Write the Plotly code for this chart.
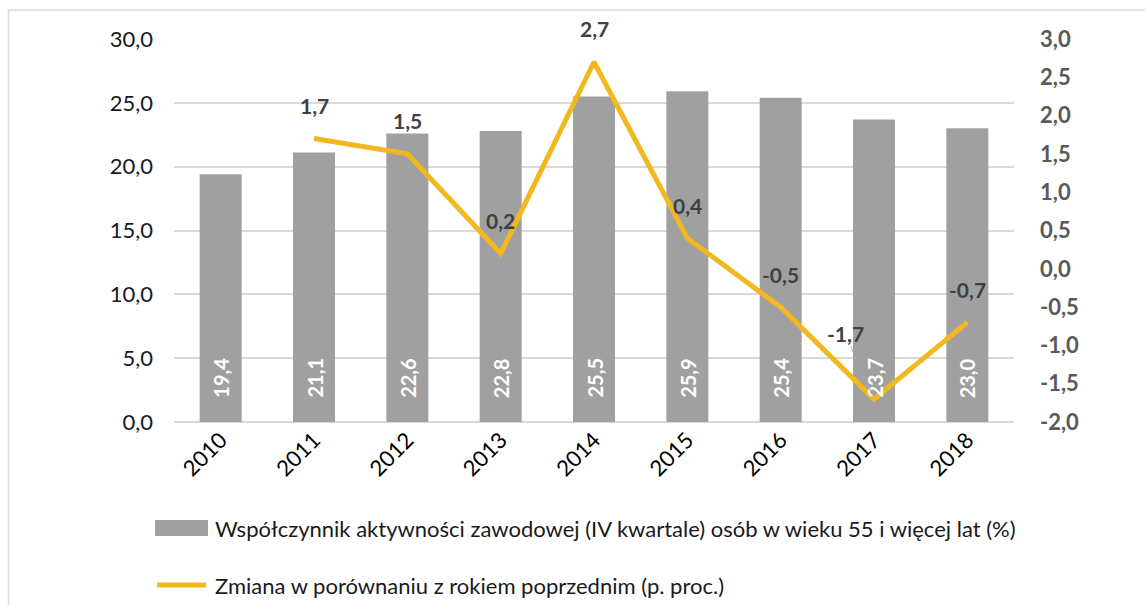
import plotly.graph_objects as go

# Chart data
years = ["2010", "2011", "2012", "2013", "2014", "2015", "2016", "2017", "2018"]
activity_rate = [19.4, 21.1, 22.6, 22.8, 25.5, 25.9, 25.4, 23.7, 23.0]
yoy_change = [None, 1.7, 1.5, 0.2, 2.7, 0.4, -0.5, -1.7, -0.7]
right_ticks = [-2.0, -1.5, -1.0, -0.5, 0.0, 0.5, 1.0, 1.5, 2.0, 2.5, 3.0]

bar_name = "Współczynnik aktywności zawodowej (IV kwartale) osób w wieku 55 i więcej lat (%)"
line_name = "Zmiana w porównaniu z rokiem poprzednim (p. proc.)"

BAR_COLOR = "#A0A0A0"
LINE_COLOR = "#F2B81E"
GRID_COLOR = "#D9D9D9"
FONT = "Lato"

W, H = 1145, 605
L, R, T, B = 174, 131, 39, 183
PW, PH = W - L - R, H - T - B


def px_x(px):
    return (px - L) / PW


def px_y(py):
    return (H - B - py) / PH


def pl(v):
    return f"{v:.1f}".replace(".", ",")


fig = go.Figure()

fig.add_trace(go.Bar(
    x=years, y=activity_rate, name=bar_name,
    marker=dict(color=BAR_COLOR, line=dict(width=0)),
    showlegend=False, hoverinfo="x+y",
))

fig.add_trace(go.Scatter(
    x=years, y=yoy_change, name=line_name, yaxis="y2",
    mode="lines", line=dict(color=LINE_COLOR, width=5),
    connectgaps=False, showlegend=False,
))

annotations = []

# values written vertically inside the bars (category index as x position)
for i, v in enumerate(activity_rate):
    annotations.append(dict(
        x=i, y=0, xref="x", yref="y", text=pl(v), showarrow=False,
        textangle=-90, yanchor="bottom", xanchor="center", yshift=22,
        font=dict(family=FONT, size=20, color="white", weight="bold"),
    ))

# change labels above the line points
for i, v in enumerate(yoy_change):
    if v is None:
        continue
    lab_font = dict(family=FONT, size=21, color="#404040", weight="bold")
    if years[i] == "2017":
        annotations.append(dict(
            x=i, y=v, xref="x", yref="y2", text=pl(v), showarrow=True,
            arrowhead=0, arrowwidth=1, arrowcolor="#A6A6A6",
            ax=-29, ay=-66, standoff=4, font=lab_font,
        ))
    else:
        annotations.append(dict(
            x=i, y=v, xref="x", yref="y2", text=pl(v), showarrow=False,
            yshift=33, font=lab_font,
        ))

# legend entries
legend_font = dict(family=FONT, size=22, color="#1A1A1A")
annotations.append(dict(
    x=px_x(213), y=px_y(528), xref="paper", yref="paper", text=bar_name,
    showarrow=False, xanchor="left", yanchor="middle", font=legend_font,
))
annotations.append(dict(
    x=px_x(213), y=px_y(585), xref="paper", yref="paper", text=line_name,
    showarrow=False, xanchor="left", yanchor="middle", font=legend_font,
))

shapes = [
    # outer frame
    dict(type="rect", xref="paper", yref="paper",
         x0=px_x(8.5), x1=px_x(1170), y0=px_y(640), y1=px_y(10),
         line=dict(color=GRID_COLOR, width=1.5), fillcolor="rgba(0,0,0,0)"),
    # legend swatches
    dict(type="rect", xref="paper", yref="paper",
         x0=px_x(155), x1=px_x(208), y0=px_y(536), y1=px_y(520),
         line=dict(width=0), fillcolor=BAR_COLOR),
    dict(type="line", xref="paper", yref="paper",
         x0=px_x(157), x1=px_x(206), y0=px_y(585), y1=px_y(585),
         line=dict(color=LINE_COLOR, width=5)),
]

fig.update_layout(
    width=W, height=H,
    margin=dict(l=L, r=R, t=T, b=B, autoexpand=False),
    paper_bgcolor="white", plot_bgcolor="white",
    separators=", ",
    bargap=0.55,
    font=dict(family=FONT, size=22, color="#1A1A1A"),
    xaxis=dict(
        type="category", tickangle=-45, showgrid=False, zeroline=False,
        showline=False, ticks="", tickfont=dict(size=22, color="#000000"),
    ),
    yaxis=dict(
        range=[0, 30], dtick=5, tickformat=".1f", showgrid=True,
        gridcolor=GRID_COLOR, gridwidth=1.5, zeroline=True,
        zerolinecolor=GRID_COLOR, zerolinewidth=1.5, showline=False,
        ticks="", ticklabelstandoff=20,
        tickfont=dict(size=22, color="#1A1A1A"),
    ),
    yaxis2=dict(
        overlaying="y", side="right", range=[-2, 3],
        tickmode="array", tickvals=right_ticks,
        ticktext=[pl(t) for t in right_ticks],
        showgrid=False, zeroline=False, showline=False,
        ticks="", ticklabelstandoff=25,
        tickfont=dict(size=22, color="#595959", weight="bold"),
    ),
    annotations=annotations,
    shapes=shapes,
    showlegend=False,
)

fig.write_html("out.html")
